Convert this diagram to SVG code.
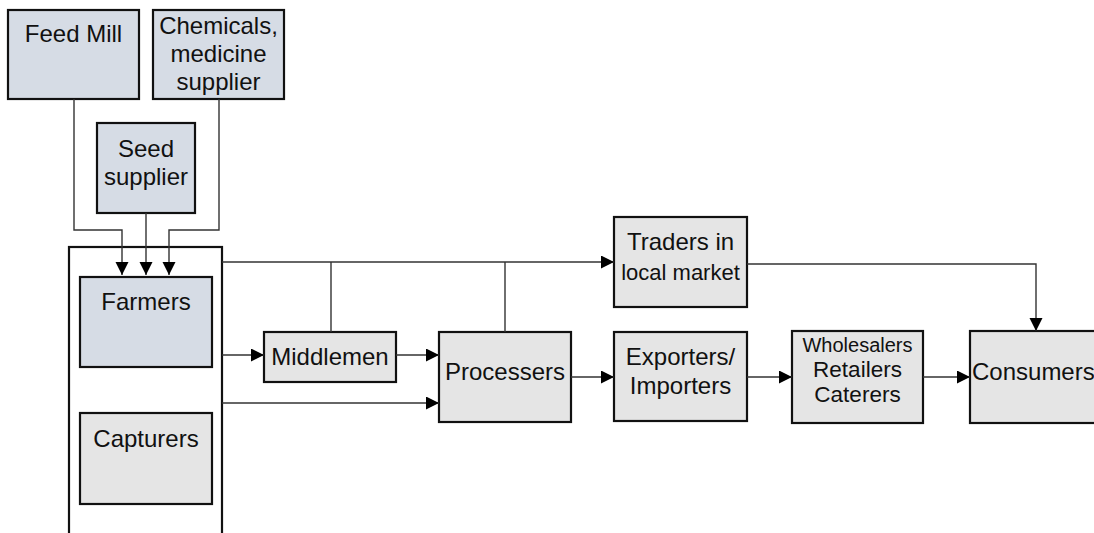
<svg xmlns="http://www.w3.org/2000/svg" width="1094" height="533" viewBox="0 0 1094 533">
<style>
.box{stroke:#111;stroke-width:2.2}
.blue{fill:#d6dce5}
.grey{fill:#e5e5e5}
.frame{fill:#fff;stroke:#111;stroke-width:2.2}
text{font-family:"Liberation Sans",Arial,sans-serif;font-size:24px;fill:#111;text-anchor:middle}
.conn path{fill:none;stroke:#333;stroke-width:1.4}
</style>
<defs>
<marker id="arr" markerUnits="userSpaceOnUse" markerWidth="14" markerHeight="14" refX="13" refY="6.5" orient="auto">
<path d="M0,0 L13,6.5 L0,13 z" fill="#000"/>
</marker>
</defs>
<rect width="1094" height="533" fill="#fff"/>
<g id="group-box"><rect class="frame" x="69" y="247" width="153" height="288"/></g>
<g id="feed-mill"><rect class="box blue" x="8" y="10" width="131" height="89"/><text x="73.5" y="42">Feed Mill</text></g>
<g id="chemicals"><rect class="box blue" x="153" y="10" width="131" height="89"/><text x="218.5" y="34">Chemicals,</text><text x="218.5" y="62">medicine</text><text x="218.5" y="90">supplier</text></g>
<g id="seed"><rect class="box blue" x="97" y="123" width="98" height="90"/><text x="146" y="157">Seed</text><text x="146" y="185">supplier</text></g>
<g id="farmers"><rect class="box blue" x="80" y="277" width="132" height="90"/><text x="146" y="310">Farmers</text></g>
<g id="capturers"><rect class="box grey" x="80" y="413" width="132" height="91"/><text x="146" y="447">Capturers</text></g>
<g id="middlemen"><rect class="box grey" x="264" y="332" width="132" height="50"/><text x="330" y="365">Middlemen</text></g>
<g id="processers"><rect class="box grey" x="439" y="332" width="132" height="90"/><text x="505" y="380">Processers</text></g>
<g id="traders"><rect class="box grey" x="614" y="217" width="133" height="90"/><text x="680.5" y="250">Traders in</text><text x="680.5" y="280" style="font-size:22px">local market</text></g>
<g id="exporters"><rect class="box grey" x="614" y="332" width="133" height="89"/><text x="680.5" y="365">Exporters/</text><text x="680.5" y="394">Importers</text></g>
<g id="wholesalers"><rect class="box grey" x="792" y="331" width="131" height="92"/><text x="857.5" y="352" style="font-size:20px">Wholesalers</text><text x="857.5" y="377" style="font-size:22.5px">Retailers</text><text x="857.5" y="402" style="font-size:22.5px">Caterers</text></g>
<g id="consumers"><rect class="box grey" x="970" y="331" width="135" height="92"/><text x="972" y="380" style="text-anchor:start">Consumers</text></g>
<g class="conn" id="connectors">
<path d="M74,99 V230 H122 V275" marker-end="url(#arr)"/>
<path d="M146,213 V275" marker-end="url(#arr)"/>
<path d="M219,99 V230 H169 V275" marker-end="url(#arr)"/>
<path d="M222,262 H614" marker-end="url(#arr)"/>
<path d="M331,262 V332"/>
<path d="M505,262 V332"/>
<path d="M222,355 H264" marker-end="url(#arr)"/>
<path d="M396,355 H439" marker-end="url(#arr)"/>
<path d="M222,403 H439" marker-end="url(#arr)"/>
<path d="M571,377 H614" marker-end="url(#arr)"/>
<path d="M747,377 H792" marker-end="url(#arr)"/>
<path d="M923,377 H970" marker-end="url(#arr)"/>
<path d="M747,264 H1036 V331" marker-end="url(#arr)"/>
</g>
</svg>
